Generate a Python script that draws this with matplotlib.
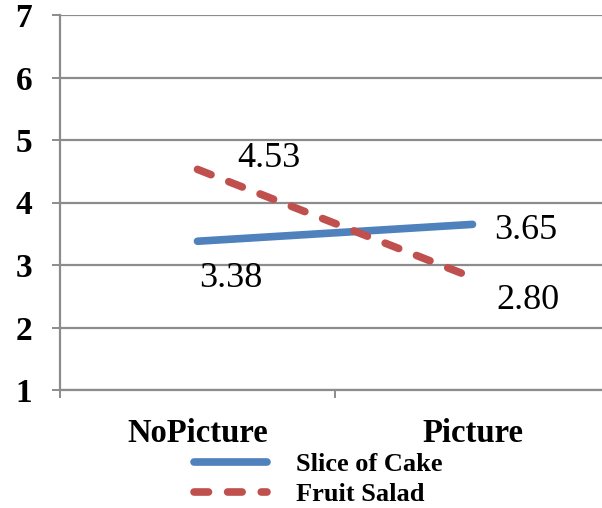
import matplotlib
matplotlib.use('Agg')
import matplotlib.pyplot as plt

categories = ['NoPicture', 'Picture']
cake = [3.38, 3.65]
salad = [4.53, 2.80]
cake_labels = ['3.38', '3.65']
salad_labels = ['4.53', '2.80']
y_ticks = [1, 2, 3, 4, 5, 6, 7]

plt.rcParams['font.family'] = ['Liberation Serif', 'DejaVu Serif']

fig = plt.figure(figsize=(6.02, 5.08), dpi=100)
# axes run past the right edge a little, as in the reference crop
ax = fig.add_axes([60 / 602, 118 / 508, 550 / 602, 375 / 508])

xs = list(range(len(categories)))
ax.plot(xs, cake, color='#4f81bd', lw=5.5, solid_capstyle='round', label='Slice of Cake', zorder=3)
ax.plot(xs, salad, color='#c0504d', lw=5.5, dashes=(1.9, 2.5), dash_capstyle='round',
        label='Fruit Salad', zorder=3)

# data labels
label_font = dict(fontsize=26, ha='center', va='center', textcoords='offset pixels')
ax.annotate(salad_labels[0], (xs[0], salad[0]), xytext=(71, 11), **label_font)
ax.annotate(cake_labels[0], (xs[0], cake[0]), xytext=(33, -37), **label_font)
ax.annotate(cake_labels[1], (xs[1], cake[1]), xytext=(53, -6), **label_font)
ax.annotate(salad_labels[1], (xs[1], salad[1]), xytext=(55, -23), **label_font)

ax.set_ylim(1, 7)
ax.set_xlim(-0.5, 1.5)
ax.set_yticks(y_ticks)
ax.set_yticklabels([str(v) for v in y_ticks], fontsize=24, fontweight='bold')
ax.yaxis.grid(True, color='#8c8c8c', lw=1.6)
ax.set_axisbelow(True)

# category labels between the tick marks
ax.set_xticks([-0.5, 0.5, 1.5])
ax.set_xticklabels([])
ax.set_xticks(xs, minor=True)
ax.set_xticklabels(categories, minor=True, fontsize=23.5, fontweight='bold')
ax.tick_params(axis='x', which='minor', length=0, pad=20)
ax.tick_params(axis='x', which='major', length=6, width=1.4, color='#8c8c8c')
ax.tick_params(axis='y', length=6, width=1.4, color='#8c8c8c', pad=14)

for side in ['top', 'right']:
    ax.spines[side].set_visible(False)
for side in ['left', 'bottom']:
    ax.spines[side].set_color('#8c8c8c')
    ax.spines[side].set_linewidth(1.6)

fig.legend(loc='upper left', bbox_to_anchor=(194 / 602, 1 - 453 / 508),
           frameon=False, prop={'weight': 'bold', 'size': 19},
           handlelength=2.75, handletextpad=1.1, labelspacing=0.22,
           borderpad=0, borderaxespad=0)

fig.savefig('out.png', dpi=100)
